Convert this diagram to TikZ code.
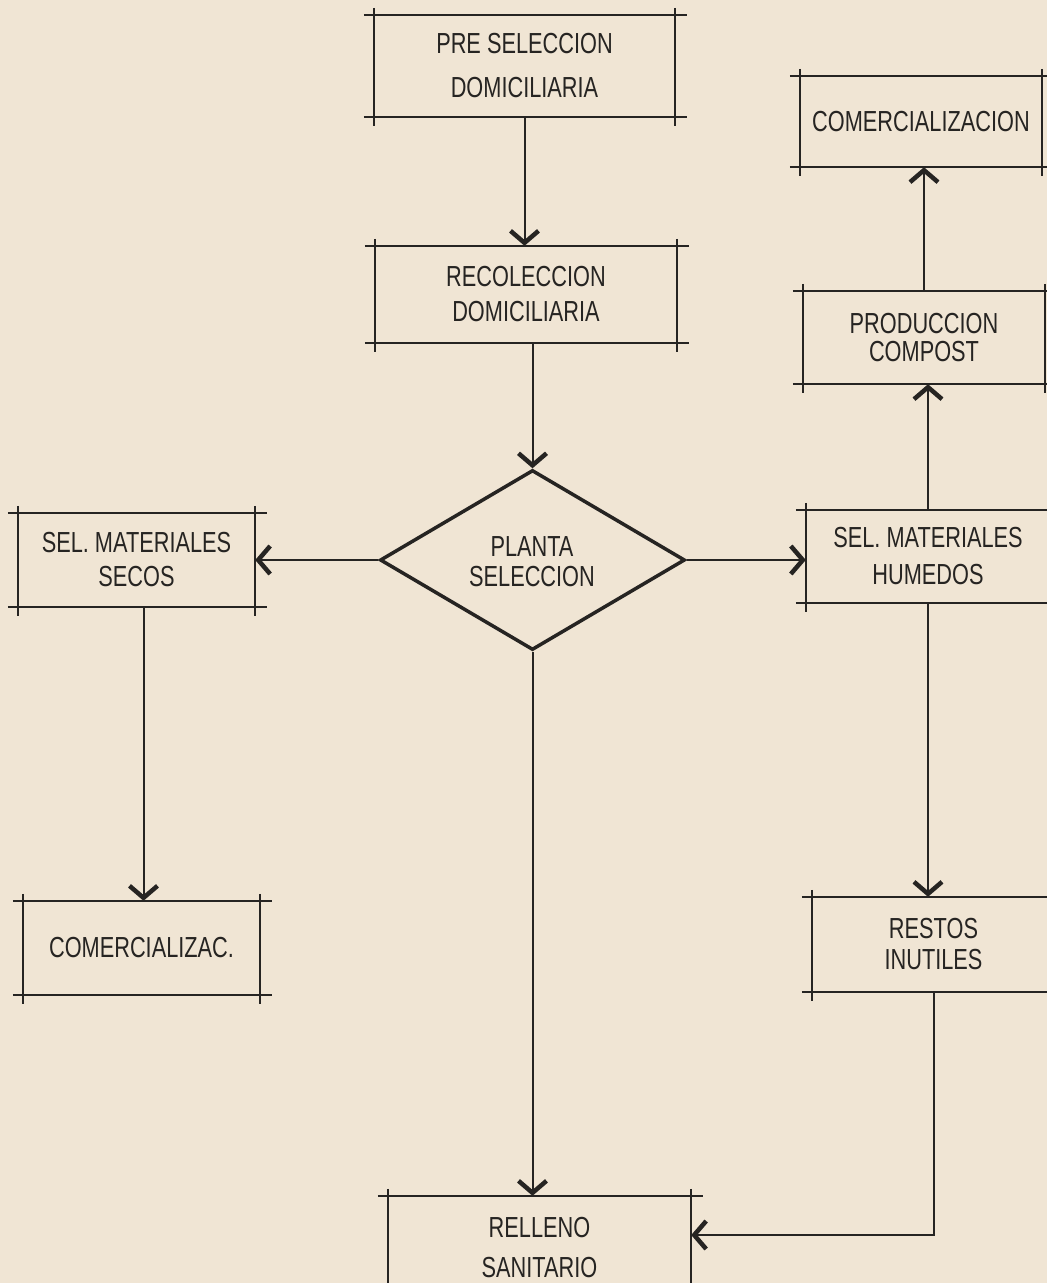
\documentclass[tikz,border=0pt]{standalone}
\usepackage{fontspec}
\setmainfont[FakeStretch=0.75]{Liberation Sans}
\usetikzlibrary{arrows.meta,shapes.geometric}
\definecolor{paper}{RGB}{240,229,212}
\definecolor{ink}{RGB}{38,36,34}

% hand-ruled box: four edges that run a little past the corners
\newcommand\ruledbox[1]{%
  \draw[boxline] ([xshift=-10pt]#1.north west) -- ([xshift=12pt]#1.north east);
  \draw[boxline] ([xshift=-10pt]#1.south west) -- ([xshift=12pt]#1.south east);
  \draw[boxline] ([yshift=7pt]#1.north west) -- ([yshift=-9pt]#1.south west);
  \draw[boxline] ([yshift=7pt]#1.north east) -- ([yshift=-9pt]#1.south east);
}

\begin{document}
\begin{tikzpicture}[x=1pt,y=-1pt,
  box/.style 2 args={rectangle, draw=none, inner sep=0pt,
    minimum width=#1, minimum height=#2, align=center, text=ink},
  lead/.style={font=\fontsize{29}{#1}\selectfont},
  lead/.default=34,
  boxline/.style={draw=ink, line width=2.2pt},
  arr/.style={draw=ink, line width=2pt,
    -{Straight Barb[length=12pt,width=28pt,line width=4.5pt]}},
]
\fill[paper] (0,0) rectangle (1047,1283);
\useasboundingbox (0,0) rectangle (1047,1283);
\clip (0,0) rectangle (1047,1283);

% boxes
\node[box={301}{102}, lead=44] (pre) at (524.5,66) {PRE SELECCION\\DOMICILIARIA};
\node[box={302}{97}, lead=35] (rec) at (526,294.5) {RECOLECCION\\DOMICILIARIA};
\node[box={242}{91}, lead] (com1) at (921,121.5) {COMERCIALIZACION};
\node[box={242}{93}, lead=28] (prod) at (924,337.5) {PRODUCCION\\COMPOST};
\node[box={237}{94}, lead=34] (secos) at (136.5,560) {SEL. MATERIALES\\SECOS};
\node[box={244}{93}, lead=37] (hum) at (928,556.5) {SEL. MATERIALES\\HUMEDOS};
\node[box={237}{94}, lead] (comz) at (141.5,948) {COMERCIALIZAC.};
\node[box={243}{95}, lead=31] (restos) at (933.5,944.5) {RESTOS\\INUTILES};
\node[box={303}{104}, lead=40] (relleno) at (539.5,1248) {RELLENO\\SANITARIO};

\foreach \b in {pre,rec,com1,prod,secos,hum,comz,restos,relleno}{\ruledbox{\b}}

% decision diamond
\node[diamond, draw=ink, line width=3.5pt, minimum width=305, minimum height=180,
  inner sep=0pt] (plant) at (532.5,560) {};
\node[text=ink, align=center, lead=30] (plantlbl) at (532,562) {PLANTA\\SELECCION};

% flow
\draw[arr] (pre.south) -- (pre.south |- rec.north);
\draw[arr] (plant.north |- rec.south) -- (plant.north);
\draw[arr] (plant.west) -- (plant.west -| secos.east);
\draw[arr] (plant.east) -- (plant.east -| hum.west);
\draw[arr] (plant.south) -- (plant.south |- relleno.north);
\draw[arr] ([xshift=7pt]secos.south) -- ([xshift=7pt]secos.south |- comz.north);
\draw[arr] (hum.north) -- (hum.north |- prod.south);
\draw[arr] (prod.north) -- (prod.north |- com1.south);
\draw[arr] (hum.south) -- (hum.south |- restos.north);
\draw[arr] (restos.south) |- ([yshift=13pt]relleno.east);
\end{tikzpicture}
\end{document}
